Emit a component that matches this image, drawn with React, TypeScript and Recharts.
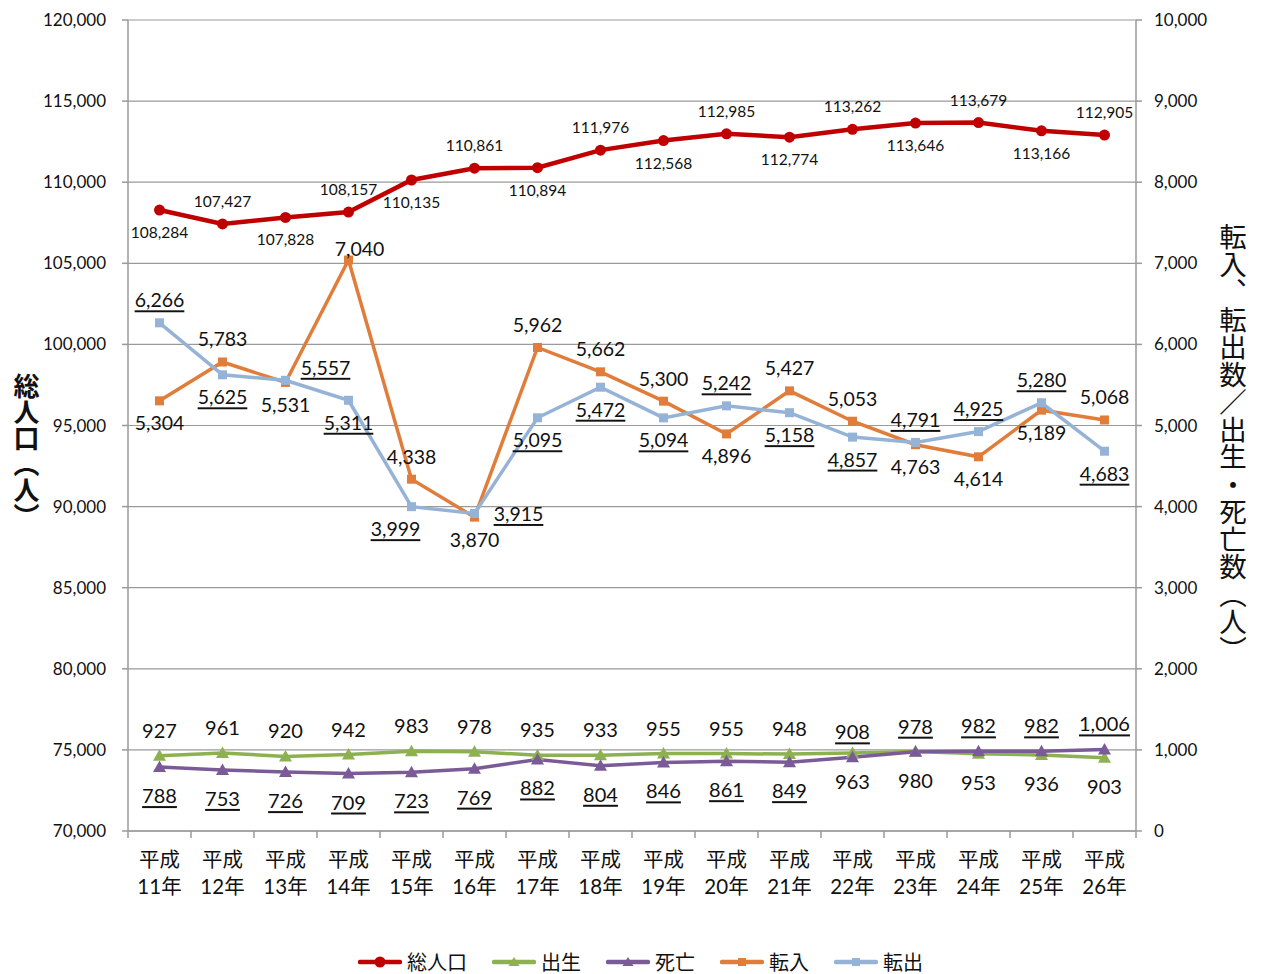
import React from 'react';
import { LineChart, Line, XAxis, YAxis, CartesianGrid } from 'recharts';

const years = ['11', '12', '13', '14', '15', '16', '17', '18', '19', '20', '21', '22', '23', '24', '25', '26'];
const totalPopulation = [108284, 107427, 107828, 108157, 110135, 110861, 110894, 111976, 112568, 112985, 112774, 113262, 113646, 113679, 113166, 112905];
const births = [927, 961, 920, 942, 983, 978, 935, 933, 955, 955, 948, 963, 980, 953, 936, 903];
const deaths = [788, 753, 726, 709, 723, 769, 882, 804, 846, 861, 849, 908, 978, 982, 982, 1006];
const moveIn = [5304, 5783, 5531, 7040, 4338, 3870, 5962, 5662, 5300, 4896, 5427, 5053, 4763, 4614, 5189, 5068];
const moveOut = [6266, 5625, 5557, 5311, 3999, 3915, 5095, 5472, 5094, 5242, 5158, 4857, 4791, 4925, 5280, 4683];
const leftTicks = [70000, 75000, 80000, 85000, 90000, 95000, 100000, 105000, 110000, 115000, 120000];
const rightTicks = [0, 1000, 2000, 3000, 4000, 5000, 6000, 7000, 8000, 9000, 10000];

// where each data label sits relative to its point
const popPos = ['b', 'a', 'b', 'a', 'b', 'a', 'b', 'a', 'b', 'a', 'b', 'a', 'b', 'a', 'b', 'a'];
const birthPos = ['A', 'A', 'A', 'A', 'A', 'A', 'A', 'A', 'A', 'A', 'A', 'B', 'B', 'B', 'B', 'B'];
const deathPos = ['B', 'B', 'B', 'B', 'B', 'B', 'B', 'B', 'B', 'B', 'B', 'A', 'A', 'A', 'A', 'A'];
const inPos = ['b', 'a', 'b', 'ta', 'a', 'b', 'a', 'a', 'a', 'b', 'a', 'a', 'b', 'b', 'b', 'a'];
const outPos = ['a', 'b', 'ar', 'b', 'bl', 'r', 'b', 'b', 'b', 'a', 'b', 'b', 'a', 'a', 'a', 'b'];

const OFFSETS: Record<string, [number, number]> = {
  a: [0, -23],
  b: [0, 22],
  A: [0, -26],
  B: [0, 28],
  r: [44, 0],
  ar: [40, -13],
  bl: [-16, 22],
  ta: [11, -12],
};

const FONT = "Lato, 'Noto Sans CJK JP', sans-serif";
const RED = '#c00000';
const GREEN = '#8db150';
const PURPLE = '#7a5b97';
const ORANGE = '#e07d3a';
const BLUE = '#95b3d7';
const GRID = '#9a9a9a';

const data = years.map((y, i) => ({
  year: y,
  total: totalPopulation[i],
  birth: births[i],
  death: deaths[i],
  in: moveIn[i],
  out: moveOut[i],
}));

const makeLabel = (pos: string[], size: number, underline = false) => (props: any) => {
  const { x, y, value, index } = props;
  if (x == null || y == null) return null;
  const [dx, dy] = OFFSETS[pos[index]] || [0, -20];
  return (
    <text
      key={`lbl-${index}`}
      x={x + dx}
      y={y + dy}
      textAnchor="middle"
      dominantBaseline="central"
      fontSize={size}
      fontFamily={FONT}
      fill="#111"
      style={{ textDecoration: underline ? 'underline' : 'none' }}
    >
      {Number(value).toLocaleString('en-US')}
    </text>
  );
};

const circleDot = (color: string) => (p: any) => {
  if (p.cx == null || p.cy == null) return <g key={p.index} />;
  return <circle key={p.index} cx={p.cx} cy={p.cy} r={5.5} fill={color} />;
};

const triDot = (color: string) => (p: any) => {
  if (p.cx == null || p.cy == null) return <g key={p.index} />;
  const { cx, cy } = p;
  return (
    <polygon
      key={p.index}
      points={`${cx},${cy - 6.5} ${cx + 6.5},${cy + 5} ${cx - 6.5},${cy + 5}`}
      fill={color}
    />
  );
};

const squareDot = (color: string) => (p: any) => {
  if (p.cx == null || p.cy == null) return <g key={p.index} />;
  return <rect key={p.index} x={p.cx - 4.5} y={p.cy - 4.5} width={9} height={9} fill={color} />;
};

const BAND = 1008 / years.length;

const YearTick = (props: any) => {
  const { x, y, index } = props;
  const label = years[index];
  return (
    <g>
      <line x1={x - BAND / 2} y1={y} x2={x - BAND / 2} y2={y + 7} stroke={GRID} strokeWidth={1.5} />
      {index === years.length - 1 && (
        <line x1={x + BAND / 2} y1={y} x2={x + BAND / 2} y2={y + 7} stroke={GRID} strokeWidth={1.5} />
      )}
      <text x={x} y={y + 36} textAnchor="middle" fontSize={20.5} fontFamily={FONT} fill="#111">
        平成
      </text>
      <text x={x} y={y + 63} textAnchor="middle" fontSize={20.5} fontFamily={FONT} fill="#111">
        {label}年
      </text>
    </g>
  );
};

const legendItems = [
  { name: '総人口', color: RED, shape: 'circle' },
  { name: '出生', color: GREEN, shape: 'tri' },
  { name: '死亡', color: PURPLE, shape: 'tri' },
  { name: '転入', color: ORANGE, shape: 'square' },
  { name: '転出', color: BLUE, shape: 'square' },
];

function LegendMark({ color, shape }: { color: string; shape: string }) {
  return (
    <svg width={44} height={14} style={{ display: 'block' }}>
      <line x1={2} y1={7} x2={42} y2={7} stroke={color} strokeWidth={4.5} strokeLinecap="round" />
      {shape === 'circle' && <circle cx={22} cy={7} r={5.5} fill={color} />}
      {shape === 'tri' && <polygon points="22,2 27.5,11 16.5,11" fill={color} />}
      {shape === 'square' && <rect x={18} y={3} width={8} height={8} fill={color} />}
    </svg>
  );
}

export default function App() {
  return (
    <div style={{ position: 'absolute', left: 0, top: 0, width: 1261, height: 974, background: '#fff', fontFamily: FONT }}>
      <LineChart
        width={1261}
        height={974}
        data={data}
        margin={{ top: 20, right: 45, left: 48, bottom: 63 }}
      >
        <CartesianGrid yAxisId="left" vertical={false} stroke={GRID} strokeWidth={1.2} />
        <XAxis
          dataKey="year"
          stroke={GRID}
          strokeWidth={1.5}
          tickLine={false}
          tickSize={0}
          tickMargin={0}
          height={80}
          interval={0}
          padding={{ left: BAND / 2, right: BAND / 2 }}
          tick={<YearTick />}
        />
        <YAxis
          yAxisId="left"
          domain={[70000, 120000]}
          ticks={leftTicks}
          interval={0}
          width={80}
          stroke={GRID}
          strokeWidth={1.5}
          tickSize={6}
          tickMargin={16}
          tick={{ fontSize: 17, fill: '#111', fontFamily: FONT }}
          tickFormatter={(v: number) => v.toLocaleString('en-US')}
        />
        <YAxis
          yAxisId="right"
          orientation="right"
          domain={[0, 10000]}
          ticks={rightTicks}
          interval={0}
          width={80}
          stroke={GRID}
          strokeWidth={1.5}
          tickSize={6}
          tickMargin={12}
          tick={{ fontSize: 17, fill: '#111', fontFamily: FONT }}
          tickFormatter={(v: number) => v.toLocaleString('en-US')}
        />
        <Line
          yAxisId="right"
          dataKey="birth"
          stroke={GREEN}
          strokeWidth={3.5}
          dot={triDot(GREEN)}
          activeDot={false}
          label={makeLabel(birthPos, 20)}
          isAnimationActive={false}
        />
        <Line
          yAxisId="right"
          dataKey="death"
          stroke={PURPLE}
          strokeWidth={3.5}
          dot={triDot(PURPLE)}
          activeDot={false}
          label={makeLabel(deathPos, 20, true)}
          isAnimationActive={false}
        />
        <Line
          yAxisId="right"
          dataKey="in"
          stroke={ORANGE}
          strokeWidth={3.5}
          dot={squareDot(ORANGE)}
          activeDot={false}
          label={makeLabel(inPos, 19.5)}
          isAnimationActive={false}
        />
        <Line
          yAxisId="right"
          dataKey="out"
          stroke={BLUE}
          strokeWidth={3.5}
          dot={squareDot(BLUE)}
          activeDot={false}
          label={makeLabel(outPos, 19.5, true)}
          isAnimationActive={false}
        />
        <Line
          yAxisId="left"
          dataKey="total"
          stroke={RED}
          strokeWidth={4.5}
          dot={circleDot(RED)}
          activeDot={false}
          label={makeLabel(popPos, 15.5)}
          isAnimationActive={false}
        />
      </LineChart>

      <div
        style={{
          position: 'absolute',
          left: 12,
          top: 373,
          writingMode: 'vertical-rl',
          fontSize: 26,
          fontWeight: 700,
          fontFamily: "'Noto Sans CJK JP', sans-serif",
          lineHeight: '28px',
          color: '#111',
        }}
      >
        総人口（人）
      </div>
      <div
        style={{
          position: 'absolute',
          left: 1219,
          top: 223,
          writingMode: 'vertical-rl',
          fontSize: 27.5,
          fontFamily: "'Noto Sans CJK JP', sans-serif",
          lineHeight: '28px',
          color: '#111',
        }}
      >
        転入、転出数／出生・死亡数（人）
      </div>

      <div
        style={{
          position: 'absolute',
          left: 20,
          top: 950,
          width: 1241,
          display: 'flex',
          justifyContent: 'center',
          alignItems: 'center',
          gap: 25,
          fontSize: 20,
          fontFamily: "'Noto Sans CJK JP', sans-serif",
          color: '#111',
        }}
      >
        {legendItems.map((it) => (
          <div key={it.name} style={{ display: 'flex', alignItems: 'center', gap: 5 }}>
            <LegendMark color={it.color} shape={it.shape} />
            <span style={{ lineHeight: '24px' }}>{it.name}</span>
          </div>
        ))}
      </div>
    </div>
  );
}
